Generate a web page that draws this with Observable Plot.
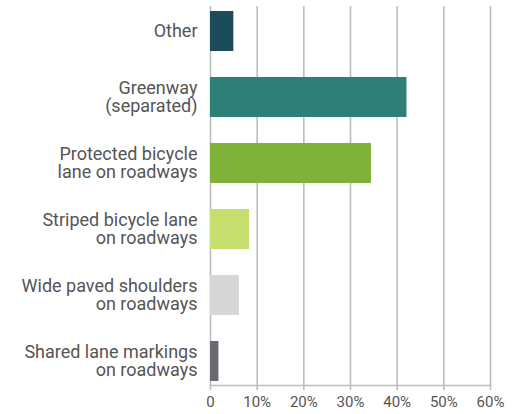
<!DOCTYPE html>
<html>
<head>
<meta charset="utf-8">
<script src="https://cdn.jsdelivr.net/npm/d3@7"></script>
<script src="https://cdn.jsdelivr.net/npm/@observablehq/plot@0.6"></script>
<style>
  html, body { margin: 0; padding: 0; background: #fff; }
  #chart { width: 512px; height: 414px; }
</style>
</head>
<body>
<div id="chart"></div>
<script>
const categories = [
  "Other",
  "Greenway\n(separated)",
  "Protected bicycle\nlane on roadways",
  "Striped bicycle lane\non roadways",
  "Wide paved shoulders\non roadways",
  "Shared lane markings\non roadways"
];
const values = [0.05, 0.421, 0.345, 0.084, 0.062, 0.018];
const colors = ["#1d4b59", "#2e7f76", "#80b23a", "#c6df6f", "#d7d7d7", "#6b6a70"];
const xTicks = [0, 0.1, 0.2, 0.3, 0.4, 0.5, 0.6];
const xTickLabels = ["0", "10%", "20%", "30%", "40%", "50%", "60%"];

const data = categories.map((c, i) => ({category: c, value: values[i], color: colors[i]}));

const chart = Plot.plot({
  width: 512,
  height: 414,
  marginTop: 6,
  marginBottom: 29,
  marginLeft: 210,
  marginRight: 22,
  style: {fontFamily: "Roboto, sans-serif", color: "#555", background: "#fff"},
  x: {domain: [0, 0.6]},
  y: {domain: categories, paddingInner: 0.4, paddingOuter: 0.03},
  marks: [
    Plot.ruleX(xTicks, {stroke: "#bdbdbd", strokeWidth: 1.6}),
    Plot.barX(data, {x: "value", y: "category", fill: "color"}),
    Plot.frame({anchor: "bottom", stroke: "#bdbdbd", strokeWidth: 1.6}),
    Plot.axisX({
      ticks: xTicks,
      tickFormat: (d) => xTickLabels[xTicks.indexOf(d)],
      tickSize: 5,
      tickPadding: 6,
      stroke: "#bdbdbd",
      strokeWidth: 1.6,
      fontSize: 15,
      fill: "#555",
      label: null
    }),
    Plot.axisY({
      tickSize: 0,
      tickPadding: 13,
      fontSize: 18,
      lineHeight: 1,
      fill: "#555",
      label: null
    })
  ]
});
document.getElementById("chart").appendChild(chart);
</script>
</body>
</html>
